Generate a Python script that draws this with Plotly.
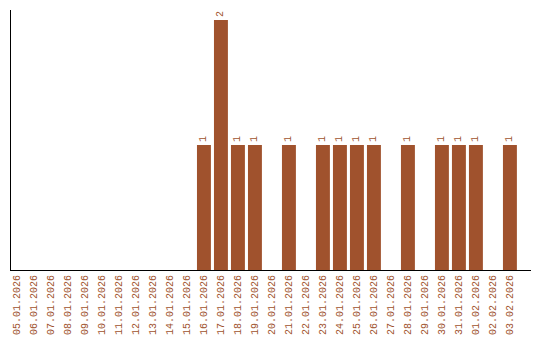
import plotly.graph_objects as go

dates = ["05.01.2026", "06.01.2026", "07.01.2026", "08.01.2026", "09.01.2026",
         "10.01.2026", "11.01.2026", "12.01.2026", "13.01.2026", "14.01.2026",
         "15.01.2026", "16.01.2026", "17.01.2026", "18.01.2026", "19.01.2026",
         "20.01.2026", "21.01.2026", "22.01.2026", "23.01.2026", "24.01.2026",
         "25.01.2026", "26.01.2026", "27.01.2026", "28.01.2026", "29.01.2026",
         "30.01.2026", "31.01.2026", "01.02.2026", "02.02.2026", "03.02.2026"]
counts = [0, 0, 0, 0, 0, 0, 0, 0, 0, 0,
          0, 1, 2, 1, 1, 0, 1, 0, 1, 1,
          1, 1, 0, 1, 0, 1, 1, 1, 0, 1]

color = "#A0522D"
font = dict(family="Liberation Mono", size=10, color=color)

labels = [str(v) if v > 0 else "" for v in counts]

fig = go.Figure(go.Bar(
    x=dates, y=counts, marker_color=color, marker_line_width=0,
    text=labels, textposition="outside", textangle=-90,
    textfont=font, cliponaxis=False,
))
fig.update_layout(
    width=540, height=340,
    margin=dict(l=11, r=9, t=10, b=70),
    paper_bgcolor="white", plot_bgcolor="white",
    bargap=0.18, showlegend=False,
    font=font,
)
fig.update_xaxes(type="category", range=[-0.35, 30.24], showline=True,
                 linecolor="black", linewidth=1,
                 ticks="", tickangle=-90, tickfont=font, showgrid=False,
                 automargin=False)
fig.update_yaxes(range=[0, 2.08], showline=True, linecolor="black", linewidth=1,
                 showticklabels=False, ticks="", showgrid=False, zeroline=False,
                 automargin=False)
fig.write_html("out.html")
